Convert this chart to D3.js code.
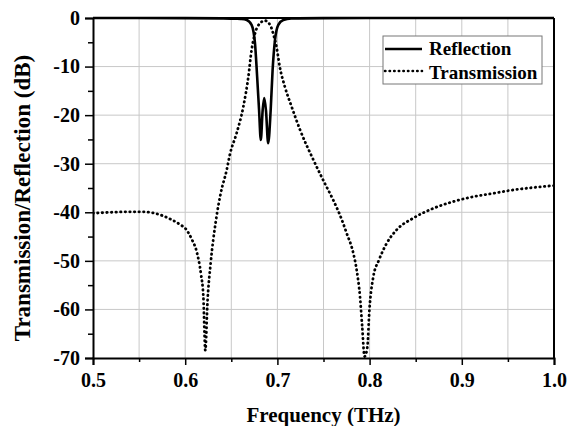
<!DOCTYPE html>
<head>
    <meta charset="utf-8">
    <script src="https://d3js.org/d3.v7.min.js"></script>
</head>

<body style="background: white; margin: 0">
    <div id="my_dataviz"></div>

    <script>
        // data (frequency in THz, level in dB)
        var transFreq = [0.500, 0.520, 0.540, 0.555, 0.574, 0.585, 0.595, 0.6005, 0.607, 0.613, 0.617, 0.6197, 0.6218,
            0.6243, 0.6276, 0.6334, 0.6385, 0.645, 0.6486, 0.6558, 0.663, 0.6685, 0.672, 0.6757, 0.681, 0.6865,
            0.692, 0.6963, 0.699, 0.7025, 0.708, 0.7155, 0.7245, 0.739, 0.7497, 0.7606, 0.7679, 0.7751, 0.7823,
            0.786, 0.7896, 0.792, 0.7945, 0.7976, 0.7998, 0.804, 0.8102, 0.8185, 0.8294, 0.8474, 0.869, 0.8907,
            0.9124, 0.934, 0.9557, 0.9773, 1.0]
        var transDb = [-40.2, -40.0, -39.9, -39.9, -40.6, -41.5, -42.6, -43.4, -45.5, -48.5, -52.6, -57.4, -68.4,
            -58, -50.5, -41.6, -36.1, -31.3, -28.0, -23.7, -18.3, -12.1, -6.6, -3.2, -1.1, -0.55,
            -1.4, -3.8, -5.9, -10, -14.1, -18.3, -23.0, -29.2, -33.4, -37.5, -40.6, -44.3, -48.4,
            -51.9, -57.4, -63.6, -69.7, -67.7, -60.1, -53.3, -49.8, -46.4, -43.6, -41.2, -39.2, -37.8,
            -36.8, -36.1, -35.4, -34.9, -34.5]

        var reflFreq = [0.50, 0.60, 0.64, 0.655, 0.660, 0.6667, 0.672, 0.6757, 0.678, 0.6801, 0.682, 0.684, 0.6857,
            0.6876, 0.690, 0.6927, 0.6948, 0.6974, 0.701, 0.7064, 0.715, 0.75, 0.85, 1.0]
        var reflDb = [0, -0.02, -0.08, -0.15, -0.2, -0.4, -1.4, -5.2, -12, -18.9, -25.1, -19, -16.5,
            -19, -25.8, -19, -10.7, -4.5, -1.4, -0.4, -0.1, -0.03, 0, 0]

        var xTicks = [0.5, 0.6, 0.7, 0.8, 0.9, 1.0]
        var yTicks = [0, -10, -20, -30, -40, -50, -60, -70]
        var legendNames = ["Reflection", "Transmission"]

        // dimensions
        var margin = { top: 18, right: 14, bottom: 68, left: 93 },
            width = 568 - margin.left - margin.right,
            height = 426 - margin.top - margin.bottom;

        var font = "'Liberation Serif', 'Times New Roman', serif"

        var svg = d3.select("#my_dataviz")
            .append("svg")
            .attr("width", 568)
            .attr("height", 426)
            .append("g")
            .attr("transform", "translate(" + margin.left + "," + margin.top + ")");

        var x = d3.scaleLinear().domain([0.5, 1.0]).range([0, width]);
        var y = d3.scaleLinear().domain([-70, 0]).range([height, 0]);

        var xMinor = d3.range(0.55, 1.0, 0.1)
        var yMinor = d3.range(-5, -70, -10)

        // grid
        svg.append("g")
            .selectAll("line")
            .data(d3.range(0.55, 1.0, 0.05))
            .enter().append("line")
            .attr("x1", d => x(d)).attr("x2", d => x(d))
            .attr("y1", 0).attr("y2", height)
            .attr("stroke", "#c8c8c8").attr("stroke-width", 1)
        svg.append("g")
            .selectAll("line")
            .data(yTicks.slice(1, -1))
            .enter().append("line")
            .attr("x1", 0).attr("x2", width)
            .attr("y1", d => y(d)).attr("y2", d => y(d))
            .attr("stroke", "#c8c8c8").attr("stroke-width", 1)

        // axes
        svg.append("g")
            .attr("transform", "translate(0," + height + ")")
            .call(d3.axisBottom(x).tickValues(xTicks).tickSize(7).tickPadding(7.5).tickFormat(d3.format(".1f")))
        svg.append("g")
            .attr("transform", "translate(0," + height + ")")
            .call(d3.axisBottom(x).tickValues(xMinor).tickSize(4).tickFormat(""))
            .select(".domain").remove()
        svg.append("g")
            .call(d3.axisLeft(y).tickValues(yTicks).tickSize(8).tickPadding(5).tickFormat(d => String(d)))
        svg.append("g")
            .call(d3.axisLeft(y).tickValues(yMinor).tickSize(5).tickFormat(""))
            .select(".domain").remove()

        svg.selectAll(".tick line").attr("stroke", "#000").attr("stroke-width", 1.5)
        svg.selectAll(".domain").attr("stroke", "#000").attr("stroke-width", 2)
        svg.selectAll(".tick text")
            .style("font-family", font)
            .style("font-weight", "bold")
            .style("font-size", "20px")
            .attr("fill", "#000")

        // top and right frame
        svg.append("line").attr("x1", 0).attr("x2", width).attr("y1", 0).attr("y2", 0)
            .attr("stroke", "#000").attr("stroke-width", 2)
        svg.append("line").attr("x1", width).attr("x2", width).attr("y1", 0).attr("y2", height)
            .attr("stroke", "#000").attr("stroke-width", 2)

        // curves
        svg.append("clipPath").attr("id", "clip")
            .append("rect").attr("x", 0).attr("y", -2).attr("width", width).attr("height", height + 2)

        var line = d3.line()
            .x(d => x(d[0]))
            .y(d => y(d[1]))
            .curve(d3.curveMonotoneX)

        svg.append("path")
            .datum(d3.zip(transFreq, transDb))
            .attr("clip-path", "url(#clip)")
            .attr("fill", "none")
            .attr("stroke", "#000")
            .attr("stroke-width", 2.8)
            .attr("stroke-linecap", "round")
            .attr("stroke-dasharray", "0.4,4.2")
            .attr("d", line)

        svg.append("path")
            .datum(d3.zip(reflFreq, reflDb))
            .attr("clip-path", "url(#clip)")
            .attr("fill", "none")
            .attr("stroke", "#000")
            .attr("stroke-width", 2.6)
            .attr("d", line)

        // legend
        var legend = svg.append("g").attr("transform", "translate(" + (383 - margin.left) + "," + (36 - margin.top) + ")")
        legend.append("rect")
            .attr("width", 159).attr("height", 48)
            .attr("fill", "white").attr("stroke", "#777").attr("stroke-width", 1)
        legend.selectAll("line.key")
            .data(legendNames)
            .enter().append("line")
            .attr("x1", 2).attr("x2", 39)
            .attr("y1", (d, i) => 13 + i * 22).attr("y2", (d, i) => 13 + i * 22)
            .attr("stroke", "#000")
            .attr("stroke-width", (d, i) => i == 0 ? 2.6 : 2.6)
            .attr("stroke-linecap", (d, i) => i == 0 ? "butt" : "round")
            .attr("stroke-dasharray", (d, i) => i == 0 ? null : "0.4,4.2")
        legend.selectAll("text")
            .data(legendNames)
            .enter().append("text")
            .attr("x", 46)
            .attr("y", (d, i) => 19 + i * 24)
            .text(d => d)
            .style("font-family", font)
            .style("font-weight", "bold")
            .style("font-size", "19px")

        // axis titles
        svg.append("text")
            .attr("text-anchor", "middle")
            .attr("x", width / 2)
            .attr("y", 422 - margin.top)
            .text("Frequency (THz)")
            .style("font-family", font)
            .style("font-weight", "bold")
            .style("font-size", "21px")

        svg.append("text")
            .attr("text-anchor", "middle")
            .attr("transform", "translate(" + (30 - margin.left) + "," + (198 - margin.top) + ") rotate(-90)")
            .text("Transmission/Reflection (dB)")
            .style("font-family", font)
            .style("font-weight", "bold")
            .style("font-size", "23px")
    </script>
</body>

</html>
